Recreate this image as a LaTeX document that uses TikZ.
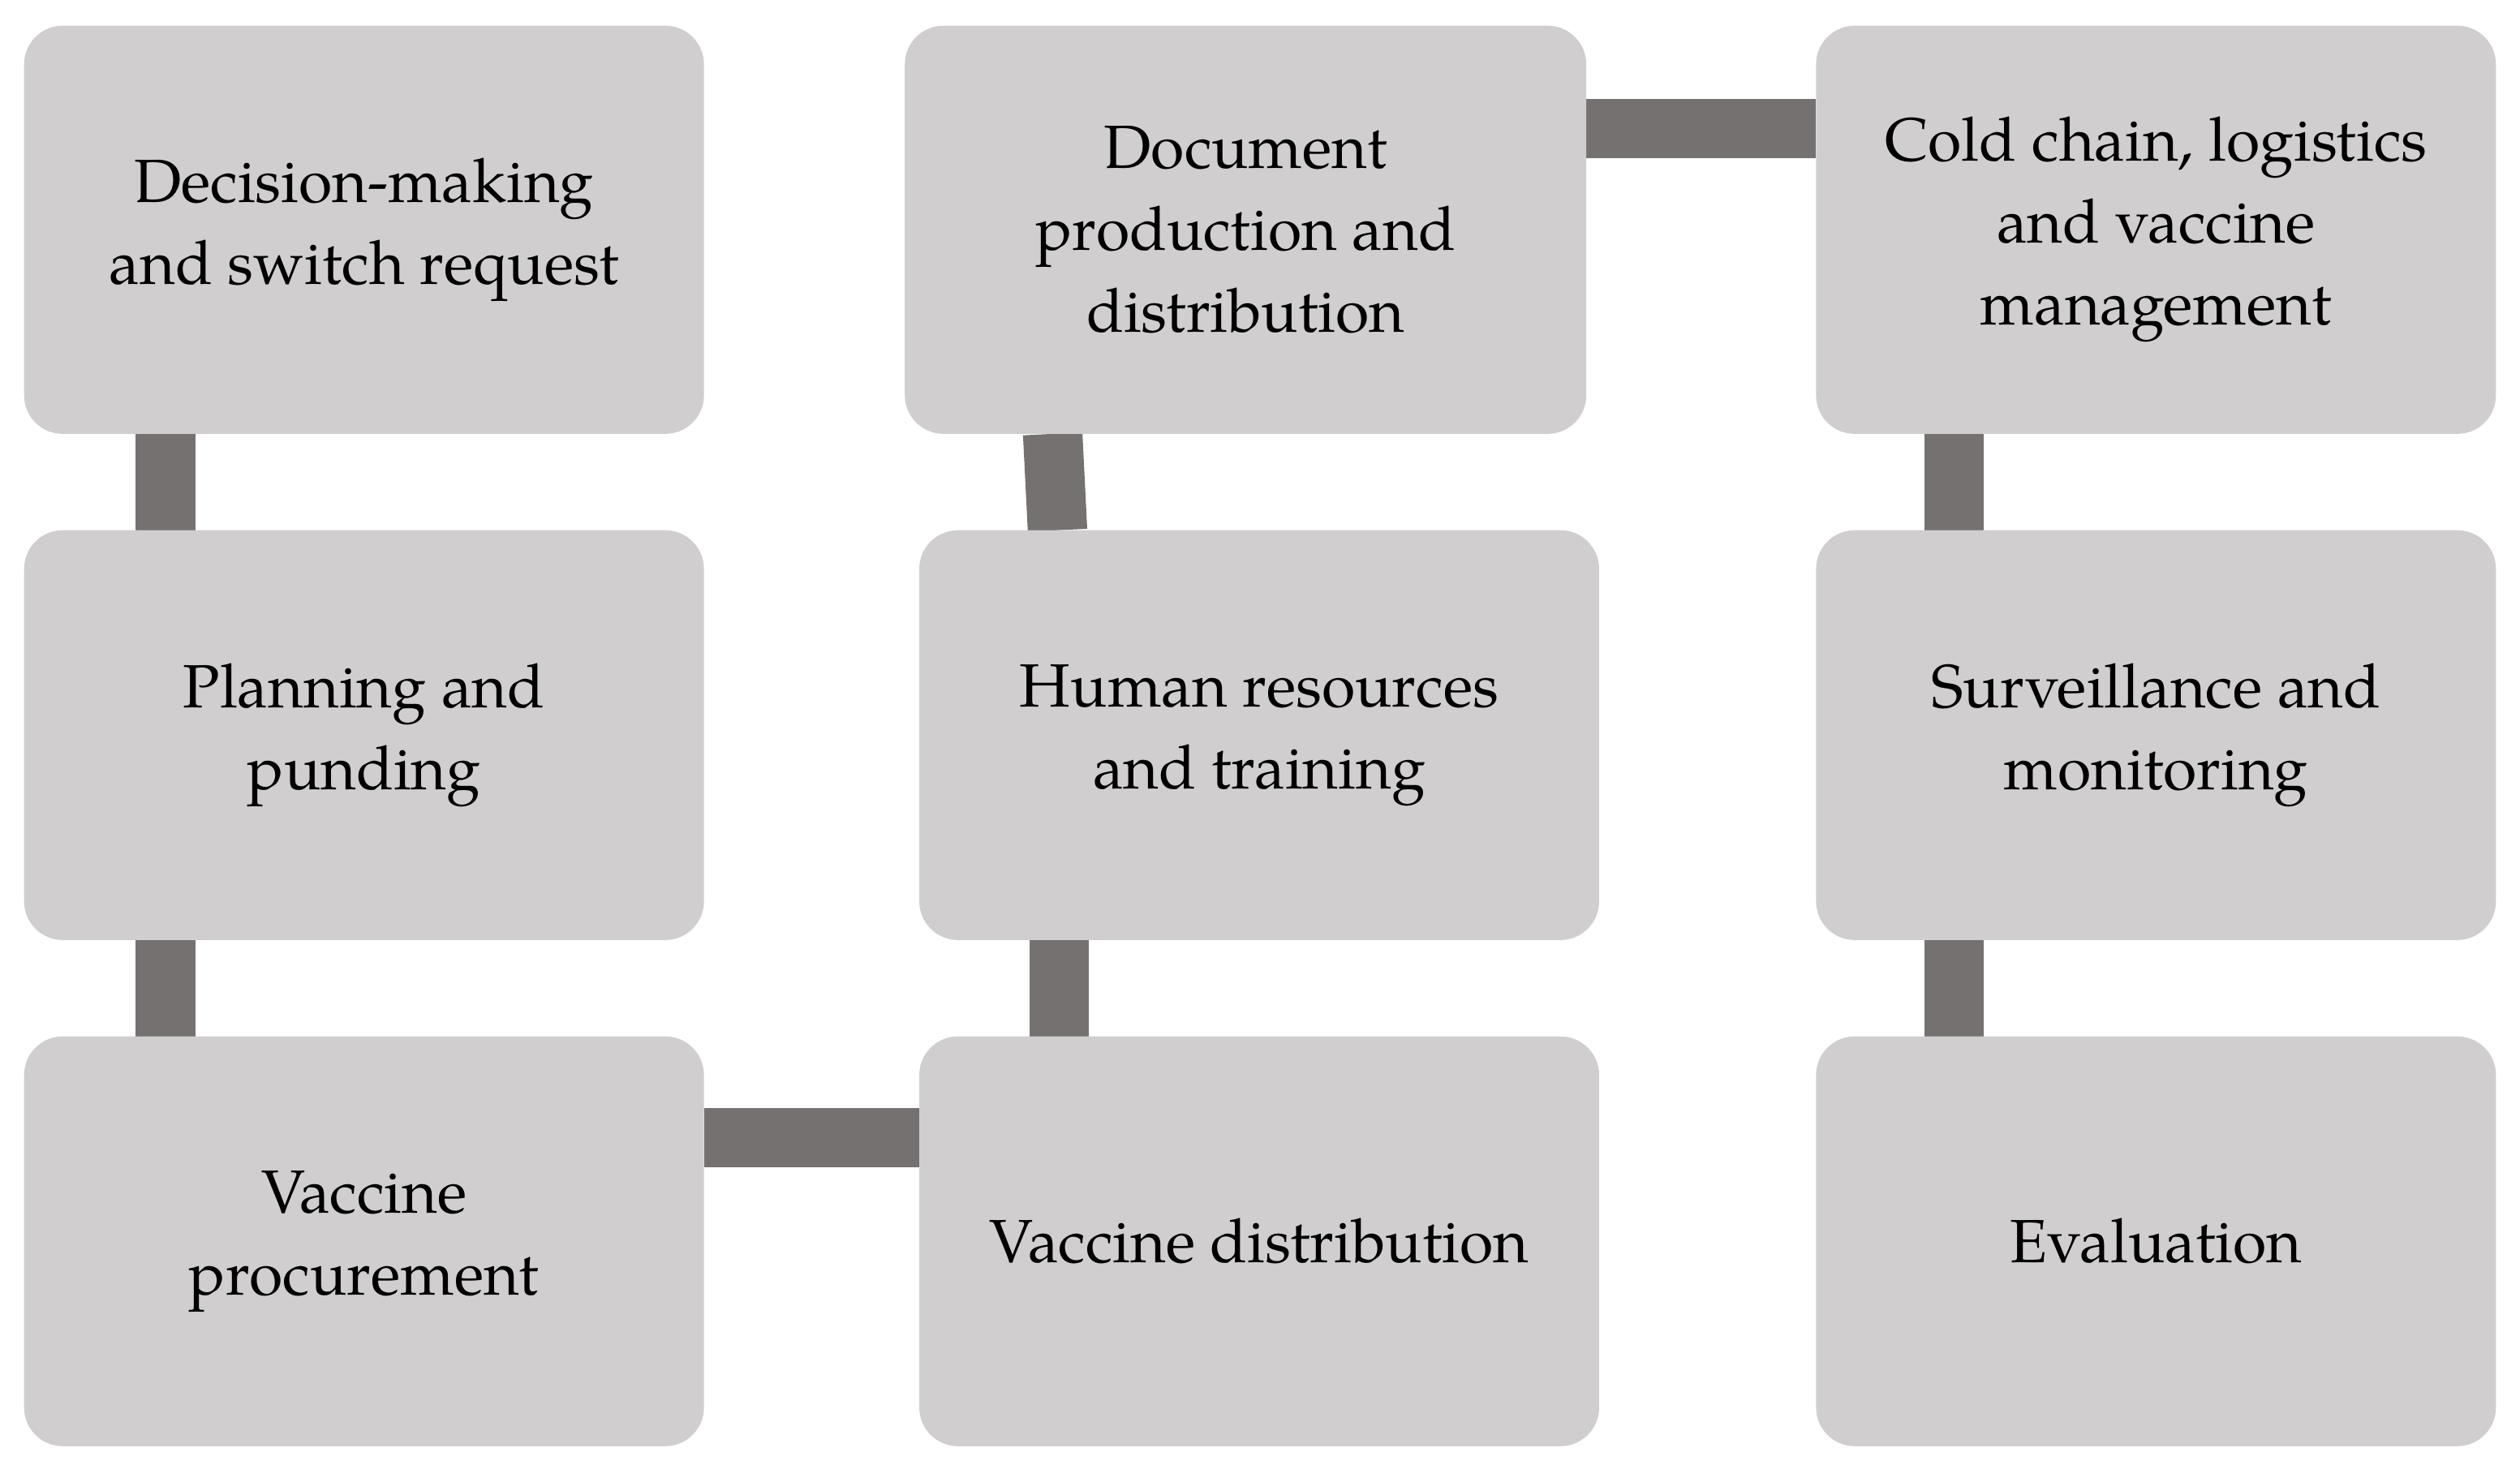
\documentclass[tikz,border=0pt]{standalone}
\usepackage{fontspec}
\setmainfont{TeX Gyre Pagella}
\usetikzlibrary{calc}
\definecolor{boxg}{HTML}{D0CECE}
\definecolor{linkg}{HTML}{767171}
\begin{document}
\begin{tikzpicture}[x=1pt,y=-1pt,
  box/.style={fill=boxg,draw=none,rounded corners=24pt,align=center,inner sep=0pt,
    font=\fontsize{38}{51}\selectfont},
  link/.style={draw=linkg,line width=37pt}]
\useasboundingbox (0,0) rectangle (1568,922);
\newcommand{\bx}[6]{\fill[boxg,rounded corners=24pt] (#2,#3) rectangle (#4,#5);
  \node[box] (#1) at ({(#2+#4)/2},{(#3+#5)/2}) {#6};
  \coordinate (#1n) at ({(#2+#4)/2},#3); \coordinate (#1s) at ({(#2+#4)/2},#5);}
\begin{scope}[on background layer/.style={}]
\end{scope}
% connectors first
\coordinate (c1a) at (103,270); \coordinate (c1b) at (103,330);
\coordinate (c1c) at (103,585); \coordinate (c1d) at (103,645);
\coordinate (c2a) at (655,270); \coordinate (c2b) at (658,330);
\coordinate (c2c) at (659,585); \coordinate (c2d) at (659,645);
\coordinate (c3a) at (1216,270); \coordinate (c3b) at (1216,330);
\coordinate (c3c) at (1216,585); \coordinate (c3d) at (1216,645);
\coordinate (h1a) at (987,80); \coordinate (h1b) at (1130,80);
\coordinate (h2a) at (438,708); \coordinate (h2b) at (572,708);
\draw[link] (c1a)--(c1b); \draw[link] (c1c)--(c1d);
\draw[link] (c2a)--(c2b); \draw[link] (c2c)--(c2d);
\draw[link] (c3a)--(c3b); \draw[link] (c3c)--(c3d);
\draw[link] (h1a)--(h1b); \draw[link] (h2a)--(h2b);
\bx{dm}{15}{16}{438}{270}{Decision-making\\and switch request}
\bx{pp}{15}{330}{438}{585}{Planning and\\punding}
\bx{vp}{15}{645}{438}{900}{Vaccine\\procurement}
\bx{dp}{563}{16}{987}{270}{Document\\production and\\distribution}
\bx{hr}{572}{330}{995}{585}{Human resources\\and training}
\bx{vd}{572}{645}{995}{900}{Vaccine distribution}
\bx{cc}{1130}{16}{1553}{270}{Cold chain, logistics\\and vaccine\\management}
\bx{sm}{1130}{330}{1553}{585}{Surveillance and\\monitoring}
\bx{ev}{1130}{645}{1553}{900}{Evaluation}
\end{tikzpicture}
\end{document}
